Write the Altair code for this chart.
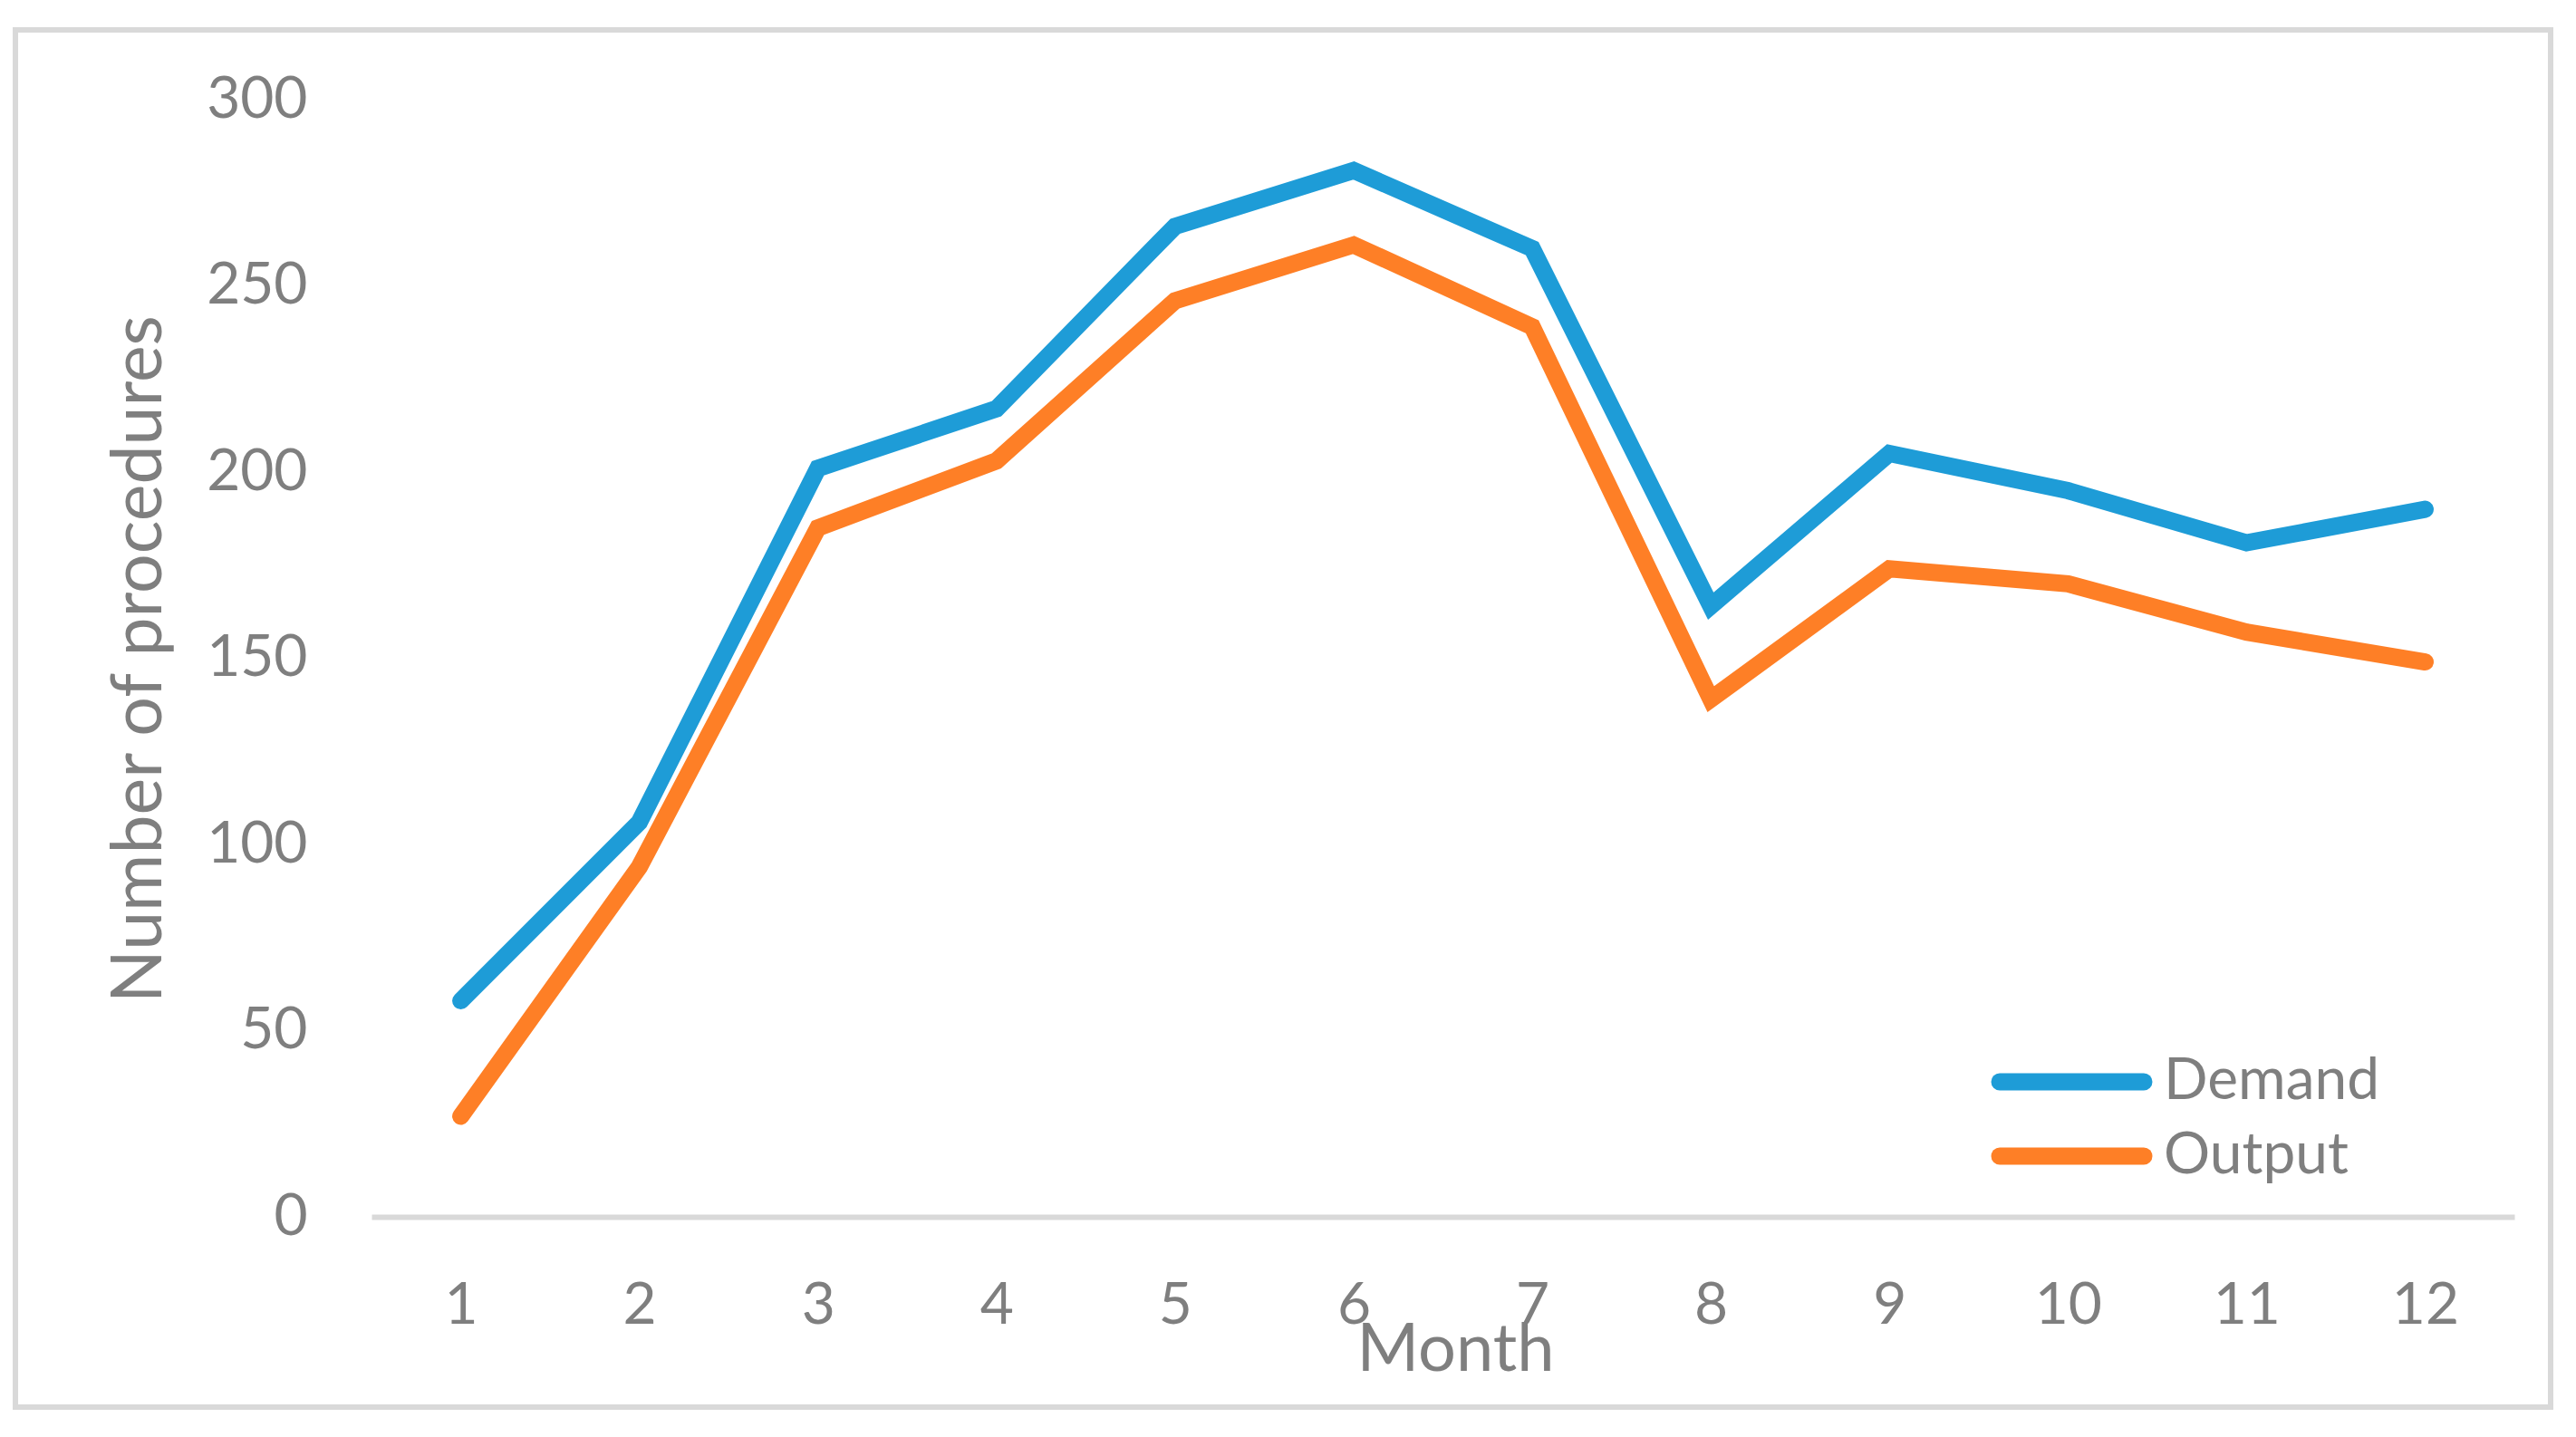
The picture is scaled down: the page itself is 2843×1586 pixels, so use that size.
import altair as alt
import pandas as pd

months = [str(m) for m in range(1, 13)]
demand = [58, 106, 201, 217, 266, 281, 260, 164, 205, 195, 181, 190]
output = [27, 94, 185, 203, 246, 261, 239, 139, 174, 170, 157, 149]
series_names = ["Demand", "Output"]
series_colors = ["#1e9cd7", "#fe7f26"]
y_ticks = [0, 50, 100, 150, 200, 250, 300]

FONT = "Lato"
GRAY = "#7f7f7f"
W, H = 2365, 1233

rows = []
for name, vals in zip(series_names, [demand, output]):
    for m, v in zip(months, vals):
        rows.append({"Month": m, "Value": v, "Series": name})
df = pd.DataFrame(rows)

color_scale = alt.Scale(domain=series_names, range=series_colors)

border = alt.Chart(pd.DataFrame({"a": [0]})).mark_rect(
    filled=False, stroke="#d9d9d9", strokeWidth=6
).encode(
    x=alt.value(-393), x2=alt.value(2405), y=alt.value(-77), y2=alt.value(1443)
)

lines = alt.Chart(df).mark_line(strokeWidth=19, strokeCap="round", strokeJoin="miter").encode(
    x=alt.X("Month:O", sort=months, scale=alt.Scale(domain=months),
            axis=alt.Axis(title="Month", labelAngle=0, labelFont=FONT, labelFontSize=64,
                          labelColor=GRAY, labelBaseline="middle", labelPadding=98,
                          ticks=False, tickSize=0, grid=False, domainColor="#d9d9d9",
                          domainWidth=6, titleFont=FONT, titleFontSize=74,
                          titleFontWeight="normal", titleColor=GRAY, titleX=1196,
                          titleY=147, titleBaseline="middle", titleAlign="center")),
    y=alt.Y("Value:Q", scale=alt.Scale(domain=[0, 300], nice=False),
            axis=alt.Axis(title="Number of procedures", values=y_ticks, labelFont=FONT,
                          labelFontSize=64, labelColor=GRAY, labelPadding=71,
                          ticks=False, tickSize=0, grid=False, domain=False,
                          titleFont=FONT, titleFontSize=77, titleFontWeight="normal",
                          titleColor=GRAY, titleX=-256, titleY=617,
                          titleBaseline="middle", titleAlign="center")),
    color=alt.Color("Series:N", scale=color_scale, legend=None),
    detail="Series:N",
)

leg_df = pd.DataFrame({"Series": series_names})
leg_y = alt.Y("Series:N", scale=alt.Scale(type="point", domain=series_names,
                                          range=[1084, 1166], padding=0),
              axis=None)

leg_rules = alt.Chart(leg_df).mark_rule(strokeWidth=19, strokeCap="round").encode(
    x=alt.value(1797), x2=alt.value(1956), y=leg_y,
    color=alt.Color("Series:N", scale=color_scale, legend=None),
)

leg_text = alt.Chart(leg_df).mark_text(
    align="left", baseline="middle", font=FONT, fontSize=64, color=GRAY
).encode(
    x=alt.value(1978), y=leg_y, text="Series:N"
)

chart = alt.layer(border, lines, leg_rules, leg_text).resolve_scale(
    y="independent"
).properties(
    width=W, height=H,
    autosize=alt.AutoSizeParams(type="none"),
    padding={"left": 402, "top": 102, "right": 60, "bottom": 220},
    background="white",
).configure_view(stroke=None)

chart.save("out.html", embed_options={"renderer": "svg", "actions": False})
